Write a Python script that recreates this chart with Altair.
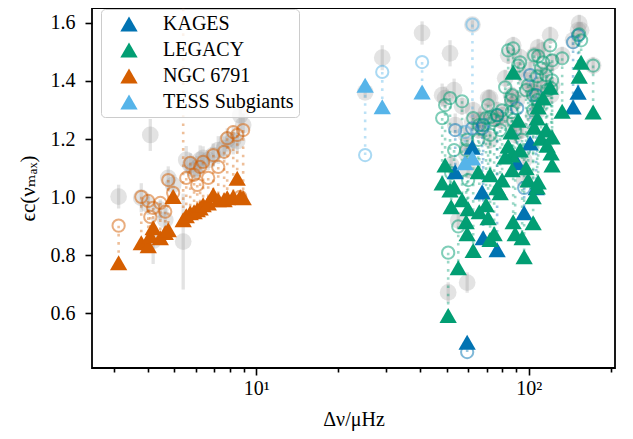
import altair as alt
import pandas as pd

groups = ["KAGES", "LEGACY", "NGC 6791", "TESS Subgiants"]
colors = ["#0173B2", "#029E73", "#D55E00", "#56B4E9"]

# ---- KAGES ----
kages_dnu = [59.4, 53.7, 62.0, 67.4, 76.5, 101.1, 145.3, 151.6, 68.0, 90.6, 96.1, 106.4]
kages_tri = [0.501, 1.087, 1.172, 1.018, 0.819, 1.186, 1.310, 1.361, 0.860, 1.118, 0.946, 1.032]
kages_circ = [0.467, 1.231, 1.237, 1.237, 1.282, 1.420, 1.533, 1.557, 1.248, 1.306, 1.032, 1.351]
kages_grey = [0.706, 1.248, 1.260, 1.265, 1.270, 1.437, 1.540, 1.574, 1.231, 1.334, 1.059, 1.368]
kages_err = [0.035, 0.04, 0.03, 0.03, 0.03, 0.03, 0.03, 0.03, 0.03, 0.03, 0.03, 0.03]

# ---- LEGACY ----
legacy_dnu = [87.6, 119.7, 155.5, 153.0, 172.1, 132.5, 112.8, 108.2, 107.3, 91.4,
              86.1, 104.6, 110.9, 116.7, 120.7, 121.7, 86.5, 86.8, 97.7, 49.3,
              48.1, 53.2, 65.2, 72.1, 76.5, 79.8, 81.9, 99.4, 107.3, 103.7,
              78.5, 51.9, 59.9, 58.9, 59.4, 62.5, 55.1, 50.6, 65.8, 70.9,
              74.6, 72.1, 87.6, 89.1, 94.5, 96.1, 103.7, 115.7, 121.7, 108.2,
              56.9, 69.7, 84.0, 92.9, 51.4]
legacy_tri = [1.430, 1.378, 1.464, 1.416, 1.293, 1.296, 1.341, 1.310, 1.272, 1.265,
              1.224, 1.241, 1.203, 1.179, 1.152, 1.111, 1.145, 1.094, 1.101, 1.111,
              1.049, 1.035, 1.087, 1.077, 1.032, 1.059, 1.138, 1.059, 1.035, 1.001,
              1.015, 0.967, 0.960, 0.915, 0.874, 0.816, 0.757, 0.593, 0.950, 0.929,
              0.874, 0.854, 0.915, 0.874, 0.860, 0.795, 0.912, 1.231, 1.207, 1.052,
              0.991, 0.974, 1.176, 1.162, 1.025]
legacy_circ = [1.512, 1.522, 1.540, 1.560, 1.453, 1.478, 1.464, 1.485, 1.416, 1.453,
               1.334, 1.488, 1.443, 1.368, 1.375, 1.471, 1.293, 1.351, 1.368, 1.317,
               1.272, 1.162, 1.197, 1.275, 1.282, 1.299, 1.378, 1.385, 1.334, 1.351,
               1.231, 1.083, 1.059, 1.162, 1.197, 1.272, 0.899, 0.809, 1.248, 1.317,
               1.265, 1.214, 1.265, 1.231, 1.197, 1.162, 1.299, 1.420, 1.402, 1.317,
               1.330, 1.272, 1.505, 1.464, 1.341]
legacy_grey = [1.522, 1.557, 1.574, 1.598, 1.453, 1.488, 1.505, 1.515, 1.385, 1.437,
               1.351, 1.488, 1.420, 1.375, 1.351, 1.464, 1.317, 1.341, 1.402, 1.341,
               1.351, 1.368, 1.231, 1.341, 1.299, 1.282, 1.409, 1.368, 1.317, 1.361,
               1.265, 1.111, 1.094, 1.150, 1.179, 1.299, 0.920, 0.672, 1.265, 1.341,
               1.272, 1.197, 1.248, 1.214, 1.231, 1.128, 1.282, 1.437, 1.385, 1.299,
               1.313, 1.293, 1.488, 1.481, 1.495]
legacy_err = [0.03] * 19 + [0.04, 0.04, 0.04] + [0.03] * 15 + [0.035] + [0.03] * 16 + [0.045]

# ---- NGC 6791 ----
ngc_dnu = [3.13, 3.79, 4.02, 4.09, 4.19, 4.45, 4.64, 4.76, 4.96, 5.40,
           5.54, 5.73, 5.92, 6.08, 6.23, 6.39, 6.67, 6.96, 7.26, 7.63,
           7.83, 8.24, 8.52, 8.74, 8.96]
ngc_tri = [0.774, 0.843, 0.833, 0.867, 0.895, 0.860, 0.878, 0.888, 1.002, 0.922,
           0.936, 0.946, 0.950, 0.957, 0.963, 0.974, 0.980, 1.008, 0.991, 0.991,
           0.998, 1.001, 1.065, 1.001, 0.998]
ngc_circ = [0.902, 1.001, 0.987, 0.932, 0.963, 0.980, 0.950, 1.059, 1.015, 1.705,
            1.066, 1.118, 1.077, 1.042, 1.104, 1.121, 1.066, 1.145, 1.104, 1.156,
            1.203, 1.224, 1.214, 1.001, 1.231]
ngc_grey = [1.002, 0.998, 0.974, 1.214, 0.850, 0.957, 0.922, 1.066, 1.042, 0.847,
            1.128, 1.111, 1.094, 1.101, 1.128, 1.135, 1.128, 1.145, 1.162, 1.169,
            1.197, 1.197, 1.193, 1.282, 1.248]
ngc_err = [0.041, 0.05, 0.035, 0.055, 0.08, 0.035, 0.04, 0.04, 0.035, 0.165,
           0.048, 0.04, 0.035, 0.04, 0.05, 0.04, 0.035, 0.04, 0.048, 0.04,
           0.04, 0.05, 0.04, 0.048, 0.04]

# ---- TESS Subgiants ----
tess_dnu = [25.1, 29.0, 40.6, 62.1, 58.3]
tess_tri = [1.385, 1.311, 1.362, 1.135, 1.118]
tess_circ = [1.145, 1.431, 1.465, 1.594, 1.224]
tess_grey = [1.361, 1.480, 1.565, 1.594, 1.220]
tess_err = [0.02, 0.043, 0.04, 0.015, 0.02]

x_ticks = [3, 4, 5, 6, 7, 8, 9, 10, 20, 30, 40, 50, 60, 70, 80, 90, 100, 200]
y_ticks = [0.6, 0.8, 1.0, 1.2, 1.4, 1.6]

sets = [
    ("KAGES", kages_dnu, kages_tri, kages_circ, kages_grey, kages_err),
    ("LEGACY", legacy_dnu, legacy_tri, legacy_circ, legacy_grey, legacy_err),
    ("NGC 6791", ngc_dnu, ngc_tri, ngc_circ, ngc_grey, ngc_err),
    ("TESS Subgiants", tess_dnu, tess_tri, tess_circ, tess_grey, tess_err),
]
rows = []
for name, dnu, tri, circ, grey, err in sets:
    for i in range(len(dnu)):
        rows.append(dict(group=name, dnu=dnu[i], tri=tri[i], circ=circ[i],
                         grey=grey[i], lo=grey[i] - err[i], hi=grey[i] + err[i]))
df = pd.DataFrame(rows)

FONT = "Liberation Serif, DejaVu Serif, serif"

xscale = alt.Scale(type="log", domain=[2.5, 207], nice=False)
yscale = alt.Scale(domain=[0.412, 1.651], nice=False, zero=False)
cscale = alt.Scale(domain=groups, range=colors)

xaxis = alt.Axis(
    values=x_ticks,
    labelExpr="datum.value == 10 ? '10¹' : (datum.value == 100 ? '10²' : '')",
    tickSize={"condition": {"test": "datum.value == 10 || datum.value == 100", "value": 7}, "value": 4},
    labelFlush=False, labelOverlap=False, labelPadding=3,
    title="Δν/μHz", titlePadding=11,
)
yaxis = alt.Axis(values=y_ticks, format=".1f", tickSize=7, labelPadding=10,
                 title="ϵc(νₘₐₓ)", titlePadding=12, titleFontSize=21)

X = alt.X("dnu:Q", scale=xscale, axis=xaxis)

base = alt.Chart(df)

errbars = base.mark_rule(color="#999999", opacity=0.27, strokeWidth=3.3, clip=True).encode(
    x=X, y=alt.Y("lo:Q", scale=yscale, axis=yaxis), y2="hi:Q")
greys = base.mark_circle(color="#999999", opacity=0.27, size=280, clip=True).encode(
    x=X, y=alt.Y("grey:Q", scale=yscale, axis=yaxis))
lines = base.mark_rule(strokeDash=[2.6, 5.6], strokeWidth=2.6, opacity=0.4, clip=True).encode(
    x=X, y=alt.Y("circ:Q", scale=yscale, axis=yaxis), y2="tri:Q",
    color=alt.Color("group:N", scale=cscale, legend=None))
circles = base.mark_point(shape="circle", filled=False, size=150, strokeWidth=2,
                          opacity=0.5, clip=True).encode(
    x=X, y=alt.Y("circ:Q", scale=yscale, axis=yaxis),
    color=alt.Color("group:N", scale=cscale, legend=None))
tris = base.mark_point(shape="triangle-up", filled=True, size=300, opacity=1, clip=True).encode(
    x=X, y=alt.Y("tri:Q", scale=yscale, axis=yaxis),
    color=alt.Color("group:N", scale=cscale, title=None,
                    legend=alt.Legend(orient="none", legendX=9, legendY=1,
                                      symbolType="triangle-up", symbolSize=300,
                                      symbolOpacity=1, symbolStrokeWidth=0,
                                      labelFont=FONT, labelFontSize=20, labelColor="black",
                                      fillColor="rgba(255,255,255,0.8)", strokeColor="#cccccc",
                                      cornerRadius=4, padding=5, rowPadding=6,
                                      symbolOffset=13, labelOffset=24)))

chart = alt.layer(errbars, greys, lines, circles, tris).resolve_legend(
    color="independent"
).properties(
    width=523, height=360,
    autosize=alt.AutoSizeParams(type="none"),
    padding={"left": 84, "top": 0, "right": 10, "bottom": 63},
).configure_axis(
    labelFont=FONT, titleFont=FONT, labelFontSize=20, titleFontSize=20,
    labelColor="black", titleColor="black", tickColor="black", tickWidth=1.6,
    grid=False, domain=False, titleFontWeight="normal",
).configure_view(stroke="black", strokeWidth=1.8)

chart.save("out.html", embed_options={"renderer": "svg", "actions": False})
